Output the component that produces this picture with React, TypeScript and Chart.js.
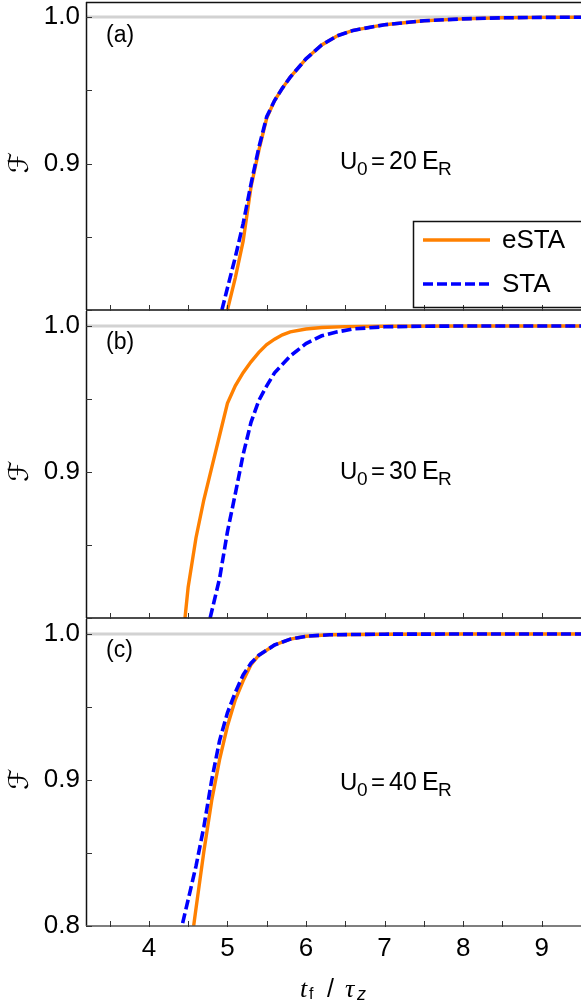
import { useEffect, useRef } from 'react';
import { Chart, registerables } from 'chart.js';
Chart.register(...registerables);

// ---------- data ----------
const X_MIN = 3.2;
const X_MAX = 9.5;
const Y_MIN = 0.8;
const Y_MAX = 1.0103;
const xTickValues = [3.5, 4, 4.5, 5, 5.5, 6, 6.5, 7, 7.5, 8, 8.5, 9, 9.5];
const xLabelValues = [4, 5, 6, 7, 8, 9];
const yTickValues = [0.8, 0.85, 0.9, 0.95, 1.0];
const yLabelValues = [0.8, 0.9, 1.0];
const seriesNames = ['eSTA', 'STA'];
const panelTags = ['(a)', '(b)', '(c)'];
const potentialValues = ['20', '30', '40'];

// panel (a) U0 = 20 ER
const aEstaX = [5.0, 5.1, 5.2, 5.3, 5.4, 5.5, 5.6, 5.7, 5.8, 6.0, 6.2, 6.4, 6.6, 7.0, 7.5, 8.0, 8.5, 9.0, 9.5];
const aEstaY = [0.8, 0.822, 0.847, 0.884, 0.909, 0.931, 0.943, 0.9515, 0.959, 0.9715, 0.981, 0.9873, 0.9909, 0.9948, 0.9975, 0.9988, 0.9995, 0.9998, 0.9999];
const aStaX = [4.93, 5.0, 5.1, 5.2, 5.3, 5.4, 5.5, 5.6, 5.7, 5.8, 6.0, 6.2, 6.4, 6.6, 7.0, 7.5, 8.0, 8.5, 9.0, 9.5];
const aStaY = [0.8, 0.815, 0.836, 0.859, 0.886, 0.911, 0.932, 0.943, 0.9515, 0.959, 0.9715, 0.981, 0.9873, 0.9909, 0.9948, 0.9975, 0.9988, 0.9995, 0.9998, 0.9999];

// panel (b) U0 = 30 ER
const bEstaX = [4.46, 4.5, 4.6, 4.7, 4.8, 4.9, 5.0, 5.1, 5.2, 5.3, 5.4, 5.5, 5.6, 5.7, 5.8, 6.0, 6.2, 6.5, 7.0, 8.0, 9.0, 9.5];
const bEstaY = [0.8, 0.821, 0.855, 0.881, 0.903, 0.925, 0.947, 0.959, 0.968, 0.9755, 0.982, 0.9873, 0.991, 0.994, 0.996, 0.998, 0.999, 0.9996, 0.9999, 1.0, 1.0, 1.0];
const bStaX = [4.78, 4.9, 5.0, 5.1, 5.2, 5.3, 5.4, 5.5, 5.6, 5.8, 6.0, 6.2, 6.4, 6.6, 7.0, 7.5, 8.0, 9.0, 9.5];
const bStaY = [0.8, 0.827, 0.859, 0.885, 0.912, 0.934, 0.949, 0.959, 0.968, 0.9795, 0.988, 0.9933, 0.996, 0.998, 0.9995, 0.9999, 1.0, 1.0, 1.0];

// panel (c) U0 = 40 ER
const cEstaX = [4.57, 4.6, 4.7, 4.8, 4.9, 5.0, 5.1, 5.2, 5.3, 5.4, 5.6, 5.8, 6.0, 6.3, 7.0, 8.0, 9.0, 9.5];
const cEstaY = [0.8, 0.812, 0.851, 0.886, 0.914, 0.937, 0.955, 0.968, 0.979, 0.9855, 0.9925, 0.9965, 0.9985, 0.9995, 0.9999, 1.0, 1.0, 1.0];
const cStaX = [4.43, 4.5, 4.6, 4.7, 4.8, 4.9, 5.0, 5.1, 5.2, 5.3, 5.4, 5.6, 5.8, 6.0, 6.3, 7.0, 8.0, 9.0, 9.5];
const cStaY = [0.802, 0.818, 0.841, 0.868, 0.9, 0.927, 0.946, 0.96, 0.972, 0.98, 0.9855, 0.9925, 0.9965, 0.9985, 0.9995, 0.9999, 1.0, 1.0, 1.0];

const panelSeries = [
  [aEstaX, aEstaY, aStaX, aStaY],
  [bEstaX, bEstaY, bStaX, bStaY],
  [cEstaX, cEstaY, cStaX, cStaY],
];

// ---------- style / layout ----------
const FONT = '"Liberation Sans", Arial, sans-serif';
const ORANGE = '#ff8000';
const BLUE = '#0000ff';
const W = 581;

type PanelLayout = {
  top: number;
  height: number;
  padTop: number;
  padBottom: number;
  tagBase: number;
  textBase: number;
  showX: boolean;
};

const layouts: PanelLayout[] = [
  { top: 0, height: 312, padTop: 2, padBottom: 2, tagBase: 42, textBase: 169, showX: false },
  { top: 309, height: 311, padTop: 2, padBottom: 2, tagBase: 349, textBase: 479, showX: false },
  { top: 617, height: 391, padTop: 2, padBottom: 0, tagBase: 657, textBase: 790, showX: true },
];

function makeDecor(idx: number, L: PanelLayout) {
  return {
    id: 'decor' + idx,
    beforeDatasetsDraw(chart: any) {
      const { ctx, chartArea: ca, scales } = chart;
      const y1 = scales.y.getPixelForValue(1.0);
      ctx.save();
      ctx.strokeStyle = '#d2d2d2';
      ctx.lineWidth = 3;
      ctx.beginPath();
      ctx.moveTo(ca.left, y1);
      ctx.lineTo(ca.right, y1);
      ctx.stroke();
      ctx.restore();
    },
    afterDatasetsDraw(chart: any) {
      const { ctx, chartArea: ca, scales } = chart;
      const off = L.top;
      ctx.save();
      // frame
      ctx.strokeStyle = '#111';
      ctx.lineWidth = 1.5;
      ctx.beginPath();
      ctx.moveTo(ca.left + 0.5, ca.top);
      ctx.lineTo(ca.left + 0.5, ca.bottom);
      if (idx === 0) {
        ctx.moveTo(ca.left, ca.top + 0.5);
        ctx.lineTo(ca.right, ca.top + 0.5);
      }
      ctx.stroke();
      ctx.strokeStyle = L.showX ? '#555' : '#111';
      ctx.beginPath();
      ctx.moveTo(ca.left, ca.bottom);
      ctx.lineTo(ca.right, ca.bottom);
      ctx.stroke();
      // ticks
      ctx.strokeStyle = '#333';
      ctx.lineWidth = 1;
      ctx.beginPath();
      for (const v of yTickValues) {
        const py = Math.round(scales.y.getPixelForValue(v)) + 0.5;
        ctx.moveTo(ca.left, py);
        ctx.lineTo(ca.left + 6, py);
      }
      for (const v of xTickValues) {
        const px = Math.round(scales.x.getPixelForValue(v)) + 0.5;
        ctx.moveTo(px, ca.bottom + 1);
        ctx.lineTo(px, ca.bottom - 5);
      }
      ctx.stroke();

      ctx.fillStyle = '#000';
      ctx.textBaseline = 'alphabetic';
      ctx.textAlign = 'left';
      // panel tag
      ctx.font = '23px ' + FONT;
      ctx.fillText(panelTags[idx], 106, L.tagBase - off);

      // U0 = xx ER
      const b = L.textBase - off;
      ctx.font = '24px ' + FONT;
      ctx.fillText('U', 340, b);
      ctx.font = '19px ' + FONT;
      ctx.fillText('0', 357, b + 6);
      ctx.font = '24px ' + FONT;
      ctx.fillText('=', 371, b);
      ctx.font = '25px ' + FONT;
      ctx.fillText(potentialValues[idx], 389, b);
      ctx.fillText('E', 422, b);
      ctx.font = '19px ' + FONT;
      ctx.fillText('R', 438, b + 6);

      // y title (script F), rotated
      const yc = scales.y.getPixelForValue(0.9) - 1;
      ctx.save();
      ctx.translate(21, yc);
      ctx.rotate(-Math.PI / 2);
      ctx.textAlign = 'center';
      ctx.textBaseline = 'middle';
      ctx.font = '27px "DejaVu Serif", "DejaVu Sans", serif';
      ctx.fillText('\u2131', 0, 0);
      ctx.restore();

      // legend in panel (a)
      if (idx === 0) {
        const lx = 413.5, ly = 221.5, lw = 180, lh = 86;
        ctx.strokeStyle = '#111';
        ctx.lineWidth = 1.5;
        ctx.strokeRect(lx, ly, lw, lh);
        const rows = [
          { y: 240 - off, color: ORANGE, dash: [] as number[], width: 3.4 },
          { y: 284 - off, color: BLUE, dash: [10, 4], width: 3.6 },
        ];
        rows.forEach((r, i) => {
          ctx.save();
          ctx.strokeStyle = r.color;
          ctx.lineWidth = r.width;
          ctx.setLineDash(r.dash);
          ctx.beginPath();
          ctx.moveTo(423, r.y);
          ctx.lineTo(490, r.y);
          ctx.stroke();
          ctx.restore();
          ctx.fillStyle = '#000';
          ctx.font = '26px ' + FONT;
          ctx.textBaseline = 'middle';
          ctx.fillText(seriesNames[i], 502, r.y + 1);
        });
      }

      // x title
      if (L.showX) {
        const tb = 997 - off;
        ctx.textBaseline = 'alphabetic';
        ctx.textAlign = 'left';
        ctx.font = 'italic 26px "Liberation Serif", serif';
        ctx.fillText('t', 300, tb);
        ctx.font = '16px ' + FONT;
        ctx.fillText('f', 309, tb + 2);
        ctx.font = '25px ' + FONT;
        ctx.fillText('/', 327, tb);
        ctx.font = 'italic 26px "Liberation Serif", serif';
        ctx.fillText('\u03c4', 345, tb);
        ctx.font = 'italic 18px ' + FONT;
        ctx.fillText('z', 357, tb + 3);
      }
      ctx.restore();
    },
  };
}

function Panel({ idx }: { idx: number }) {
  const ref = useRef<HTMLCanvasElement | null>(null);
  const L = layouts[idx];
  useEffect(() => {
    const canvas = ref.current;
    if (!canvas) return;
    const [ex, ey, sx, sy] = panelSeries[idx];
    const chart = new Chart(canvas, {
      type: 'line',
      data: {
        datasets: [
          {
            label: seriesNames[0],
            data: ex.map((x, i) => ({ x, y: ey[i] })),
            borderColor: ORANGE,
            backgroundColor: ORANGE,
            borderWidth: 3.4,
            pointRadius: 0,
            tension: 0,
            fill: false,
            order: 2,
          },
          {
            label: seriesNames[1],
            data: sx.map((x, i) => ({ x, y: sy[i] })),
            borderColor: BLUE,
            backgroundColor: BLUE,
            borderWidth: 3.6,
            borderDash: [10, 4],
            pointRadius: 0,
            tension: 0,
            fill: false,
            order: 1,
          },
        ],
      },
      options: {
        responsive: false,
        animation: false,
        devicePixelRatio: 1,
        layout: { padding: { top: L.padTop, bottom: L.padBottom, left: 0, right: 0 } },
        plugins: { legend: { display: false }, tooltip: { enabled: false } },
        scales: {
          x: {
            type: 'linear',
            min: X_MIN,
            max: X_MAX,
            display: L.showX,
            grid: { display: false, drawTicks: false },
            border: { display: false },
            afterBuildTicks: (s: any) => {
              s.ticks = xTickValues.map((v) => ({ value: v }));
            },
            afterFit: (s: any) => {
              if (L.showX) s.height = 82;
              s.paddingLeft = 0;
              s.paddingRight = 0;
            },
            ticks: {
              autoSkip: false,
              maxRotation: 0,
              minRotation: 0,
              padding: 7,
              color: '#000',
              font: { family: FONT, size: 26 },
              callback: (v: any) => (xLabelValues.includes(v) ? String(v) : ''),
            },
          },
          y: {
            type: 'linear',
            min: Y_MIN,
            max: Y_MAX,
            grid: { display: false, drawTicks: false },
            border: { display: false },
            afterBuildTicks: (s: any) => {
              s.ticks = yTickValues.map((v) => ({ value: v }));
            },
            afterFit: (s: any) => {
              s.width = 86;
              s.paddingTop = 0;
              s.paddingBottom = 0;
            },
            ticks: {
              autoSkip: false,
              padding: 6,
              color: '#000',
              font: { family: FONT, size: 26 },
              callback: (v: any) => {
                if (!yLabelValues.includes(v)) return '';
                if (v === 0.8 && !L.showX) return '';
                return v.toFixed(1);
              },
            },
          },
        },
      },
      plugins: [makeDecor(idx, L)],
    } as any);
    return () => chart.destroy();
  }, [idx]);
  return (
    <canvas
      ref={ref}
      width={W}
      height={L.height}
      style={{ position: 'absolute', left: 0, top: L.top, width: W, height: L.height }}
    />
  );
}

export default function App() {
  useEffect(() => {
    document.body.style.margin = '0';
  }, []);
  return (
    <div style={{ position: 'absolute', left: 0, top: 0, width: W, height: 1008, background: '#fff', overflow: 'hidden' }}>
      <Panel idx={0} />
      <Panel idx={1} />
      <Panel idx={2} />
    </div>
  );
}
